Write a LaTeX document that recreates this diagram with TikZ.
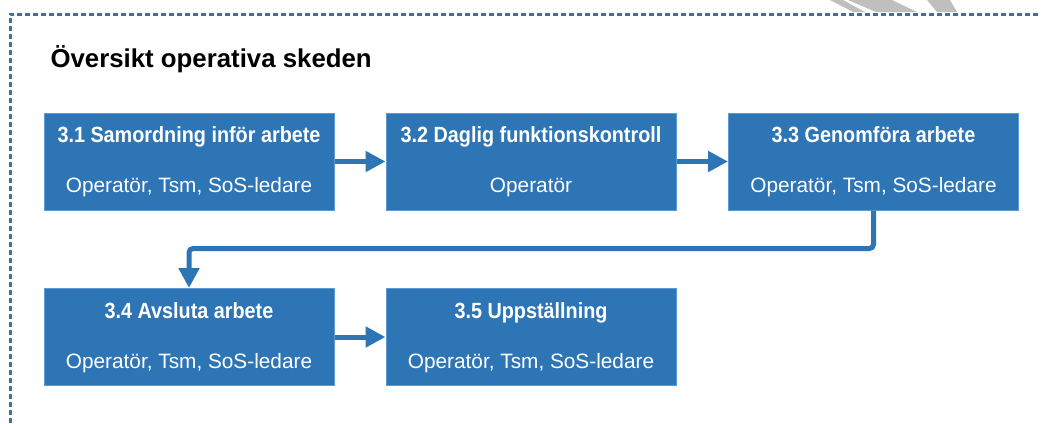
\documentclass[tikz,border=0pt]{standalone}
\usepackage{fontspec}
\setmainfont{Liberation Sans}
\newfontfamily\narrowfont[FakeStretch=0.9]{Liberation Sans}
\usetikzlibrary{arrows.meta}

\definecolor{stageblue}{HTML}{2E75B6}
\definecolor{stageedge}{HTML}{5B9BD5}
\definecolor{framecol}{HTML}{3F6FA0}

\tikzset{
  stage/.style={draw=stageedge, line width=1pt, fill=stageblue,
    minimum width=290pt, minimum height=97pt, inner sep=0pt},
  stagetitle/.style={text=white, anchor=base,
    font=\narrowfont\bfseries\fontsize{22}{26}\selectfont},
  stagewho/.style={text=white, anchor=base, font=\fontsize{20.8}{24}\selectfont},
  flow/.style={draw=stageblue, line width=5pt,
    -{Triangle[length=20pt,width=20pt]}},
}

\begin{document}
\begin{tikzpicture}[x=1pt, y=-1pt]
  \newcommand{\Stage}[5]{%
    \node[stage] (#1) at (#2) {};
    \node[stagetitle] (#1-title) at ([yshift=-30pt]#1.north) {#3};
    \node[stagewho] (#1-who) at ([yshift=-80pt]#1.north) {#4#5};
  }
  \useasboundingbox (0,0) rectangle (1041,423);

  % grey marks along the upper edge
  \fill[gray!50] (830,0) -- (843,0) -- (865,12) -- (853,12) -- cycle;
  \fill[gray!50] (848,0) -- (892,0) -- (917,12) -- (876,12) -- cycle;
  \fill[gray!50] (927,0) -- (950,0) -- (957,12) -- (937,12) -- cycle;

  % dashed frame, open to the right and below
  \draw[framecol, line width=3pt, dash pattern=on 5pt off 3pt]
    (10,423) -- (10,14) -- (1041,14);

  \node[anchor=base west, font=\bfseries\fontsize{25.8}{30}\selectfont]
    (heading) at (47,67) {Översikt operativa skeden};

  \Stage{s31}{189,161.5}{3.1 Samordning inför arbete}{Operatör, Tsm, SoS-ledare}{}
  \Stage{s32}{531,161.5}{3.2 Daglig funktionskontroll}{Operatör}{}
  \Stage{s33}{873.5,161.5}{3.3 Genomföra arbete}{Operatör, Tsm, SoS-ledare}{}
  \Stage{s34}{189,337}{3.4 Avsluta arbete}{Operatör, Tsm, SoS-ledare}{}
  \Stage{s35}{531,337}{3.5 Uppställning}{Operatör, Tsm, SoS-ledare}{}

  \draw[flow] (s31) -- (s32);
  \draw[flow] (s32) -- (s33);
  \draw[flow, rounded corners=4pt] (s33.south) -- ++(0,38) -| (s34.north);
  \draw[flow] (s34) -- (s35);
\end{tikzpicture}
\end{document}
